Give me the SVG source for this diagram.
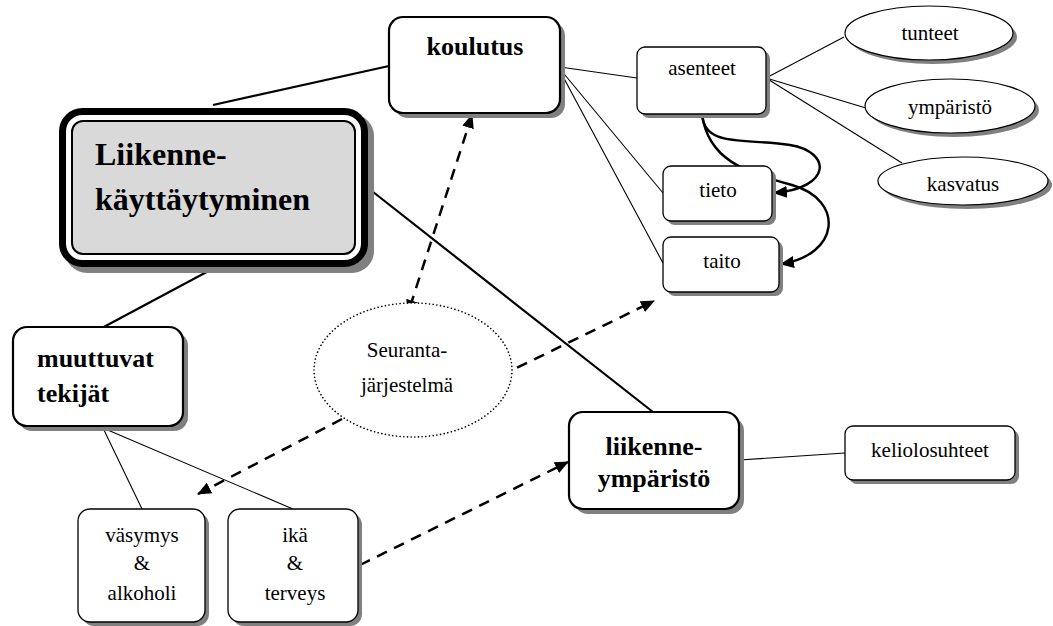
<svg xmlns="http://www.w3.org/2000/svg" width="1053" height="626" viewBox="0 0 1053 626">
  <defs>
    <style>
      .bg { fill: #ffffff; }
      .shadow { fill: #808080; stroke: none; }
      .box { fill: #ffffff; stroke: #000000; stroke-width: 1.3; }
      .boxb { fill: #ffffff; stroke: #000000; stroke-width: 2.2; }
      .ell { fill: #ffffff; stroke: #000000; stroke-width: 1.2; }
      .dotted { fill: #ffffff; stroke: #000000; stroke-width: 1.6; stroke-dasharray: 0.1 3.6; stroke-linecap: round; }
      .thin { stroke: #000000; stroke-width: 1.1; fill: none; }
      .thick { stroke: #000000; stroke-width: 2.2; fill: none; }
      .curve { stroke: #000000; stroke-width: 2.4; fill: none; }
      .dash { stroke: #000000; stroke-width: 2.5; fill: none; stroke-dasharray: 11 8; }
      .t { font-size: 21px; text-anchor: middle; }
      .tb { font-size: 26px; font-weight: bold; }
      .tmain { font-size: 32px; font-weight: bold; }
    </style>
    <marker id="arrow" viewBox="0 0 14 12" refX="13" refY="6" markerWidth="14" markerHeight="12" markerUnits="userSpaceOnUse" orient="auto-start-reverse">
      <path d="M0,0 L14,6 L0,12 Z" fill="#000000"/>
    </marker>
  </defs>

  <rect class="bg" x="0" y="0" width="1053" height="626"/>

  <!-- connectors -->
  <g id="connectors">
    <!-- main topic links -->
    <line class="thick" x1="213" y1="105" x2="389" y2="66"/>
    <line class="thick" x1="216" y1="267" x2="100" y2="329"/>
    <line class="thick" x1="368" y1="188" x2="653" y2="412"/>
    <!-- koulutus branches -->
    <line class="thin" x1="560" y1="67" x2="637" y2="78"/>
    <line class="thin" x1="560" y1="69" x2="663" y2="193"/>
    <line class="thin" x1="560" y1="71" x2="663" y2="263"/>
    <!-- asenteet branches -->
    <line class="thin" x1="766" y1="78" x2="844" y2="37"/>
    <line class="thin" x1="766" y1="78" x2="866" y2="108"/>
    <line class="thin" x1="766" y1="78" x2="902" y2="163"/>
    <!-- liikenneympäristö branch -->
    <line class="thin" x1="739" y1="460" x2="845" y2="453"/>
    <!-- muuttuvat tekijät branches -->
    <line class="thin" x1="103" y1="428" x2="142" y2="509"/>
    <line class="thin" x1="103" y1="428" x2="293" y2="509"/>
    <!-- asenteet feeds tieto and taito -->
    <path class="curve" d="M702,114 C704,148 745,138 790,145 C832,152 832,188 774,193" marker-end="url(#arrow)"/>
    <path class="curve" d="M702,114 C708,160 745,172 792,185 C845,200 840,255 781,264" marker-end="url(#arrow)"/>
    <!-- seurantajärjestelmä links -->
    <line class="dash" x1="472" y1="115" x2="408" y2="313" marker-start="url(#arrow)" marker-end="url(#arrow)"/>
    <line class="dash" x1="500" y1="376" x2="654" y2="301" marker-end="url(#arrow)"/>
    <line class="dash" x1="342" y1="419" x2="198" y2="494" marker-end="url(#arrow)"/>
    <line class="dash" x1="360" y1="565" x2="568" y2="462" marker-end="url(#arrow)"/>
  </g>

  <g font-family="Liberation Serif, Times New Roman, serif" fill="#000000">
  <!-- central node -->
  <g id="liikennekayttaytyminen">
    <rect class="shadow" x="65" y="114" width="309" height="159" rx="22"/>
    <rect x="62.5" y="111.5" width="302" height="152" rx="20" fill="#ffffff" stroke="#000000" stroke-width="7"/>
    <rect x="72" y="121" width="283" height="133" rx="11" fill="#d9d9d9" stroke="#000000" stroke-width="2"/>
    <text class="tmain" x="95" y="165">Liikenne-</text>
    <text class="tmain" x="95" y="210">käyttäytyminen</text>
  </g>

  <g id="koulutus">
    <rect class="shadow" x="394" y="22" width="171" height="96" rx="14"/>
    <rect class="boxb" x="389" y="17" width="171" height="96" rx="14"/>
    <text class="tb" x="475" y="55" text-anchor="middle">koulutus</text>
  </g>

  <g id="asenteet">
    <rect class="shadow" x="641" y="51" width="129" height="67" rx="8"/>
    <rect class="box" x="637" y="47" width="129" height="67" rx="8"/>
    <text class="t" x="702" y="75">asenteet</text>
  </g>

  <g id="tieto">
    <rect class="shadow" x="667" y="170" width="109" height="55" rx="8"/>
    <rect class="box" x="663" y="166" width="109" height="55" rx="8"/>
    <text class="t" x="718" y="197">tieto</text>
  </g>

  <g id="taito">
    <rect class="shadow" x="667" y="241" width="116" height="55" rx="8"/>
    <rect class="box" x="663" y="237" width="116" height="55" rx="8"/>
    <text class="t" x="722" y="268">taito</text>
  </g>

  <g id="tunteet">
    <ellipse class="shadow" cx="933" cy="37" rx="84" ry="27"/>
    <ellipse class="ell" cx="929" cy="33" rx="84" ry="27"/>
    <text class="t" x="930" y="40">tunteet</text>
  </g>

  <g id="ymparisto">
    <ellipse class="shadow" cx="954" cy="110" rx="85" ry="27"/>
    <ellipse class="ell" cx="950" cy="106" rx="85" ry="27"/>
    <text class="t" x="950" y="114">ympäristö</text>
  </g>

  <g id="kasvatus">
    <ellipse class="shadow" cx="967" cy="185" rx="85" ry="24"/>
    <ellipse class="ell" cx="963" cy="181" rx="85" ry="24"/>
    <text class="t" x="963" y="191">kasvatus</text>
  </g>

  <g id="seurantajarjestelma">
    <ellipse class="dotted" cx="413" cy="370" rx="99" ry="67"/>
    <text class="t" x="407" y="357">Seuranta-</text>
    <text class="t" x="407" y="392">järjestelmä</text>
  </g>

  <g id="muuttuvat-tekijat">
    <rect class="shadow" x="18" y="332" width="170" height="99" rx="14"/>
    <rect class="boxb" x="13" y="327" width="170" height="99" rx="14"/>
    <text class="tb" x="37" y="367">muuttuvat</text>
    <text class="tb" x="37" y="402">tekijät</text>
  </g>

  <g id="liikenneymparisto">
    <rect class="shadow" x="574" y="417" width="170" height="97" rx="14"/>
    <rect class="boxb" x="569" y="412" width="170" height="97" rx="14"/>
    <text class="tb" x="654" y="455" text-anchor="middle">liikenne-</text>
    <text class="tb" x="654" y="487" text-anchor="middle">ympäristö</text>
  </g>

  <g id="keliolosuhteet">
    <rect class="shadow" x="849" y="430" width="170" height="54" rx="8"/>
    <rect class="box" x="845" y="426" width="170" height="54" rx="8"/>
    <text class="t" x="930" y="457">keliolosuhteet</text>
  </g>

  <g id="vasymys-alkoholi">
    <rect class="shadow" x="82" y="513" width="127" height="113" rx="12"/>
    <rect class="box" x="78" y="509" width="127" height="113" rx="12"/>
    <text class="t" x="142" y="542">väsymys</text>
    <text class="t" x="142" y="570">&amp;</text>
    <text class="t" x="142" y="600">alkoholi</text>
  </g>

  <g id="ika-terveys">
    <rect class="shadow" x="232" y="513" width="130" height="113" rx="12"/>
    <rect class="box" x="228" y="509" width="130" height="113" rx="12"/>
    <text class="t" x="295" y="542">ikä</text>
    <text class="t" x="295" y="570">&amp;</text>
    <text class="t" x="295" y="600">terveys</text>
  </g>
  </g>
</svg>
